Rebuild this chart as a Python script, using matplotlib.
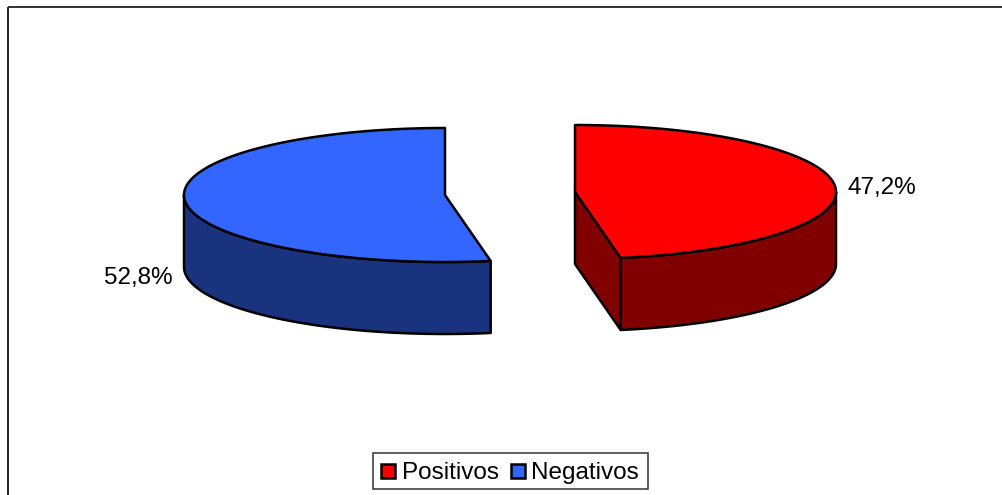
import numpy as np
import matplotlib
matplotlib.use('Agg')
import matplotlib.pyplot as plt
from matplotlib.patches import Polygon, Rectangle

categories = ['Positivos', 'Negativos']
values = [47.2, 52.8]
labels = ['47,2%', '52,8%']
top_colors = ['#ff0000', '#3366ff']
side_colors = ['#800000', '#19337f']

# pie geometry, in pixels
rx = 261
ry = 67
depth = 72
centers = [(575, 192), (445, 195)]
label_pos = [(848, 194), (104, 284)]

plt.rcParams['font.family'] = ['Liberation Sans', 'DejaVu Sans']

fig = plt.figure(figsize=(10.02, 4.95), dpi=100)
ax = fig.add_axes([0, 0, 1, 1])
ax.set_xlim(0, 1002)
ax.set_ylim(495, 0)
ax.axis('off')

# chart frame, right and bottom run off the edge
ax.plot([8, 8], [495, 6.5], color='#111111', lw=1.3, solid_capstyle='butt')
ax.plot([8, 1002], [6.5, 6.5], color='#222222', lw=1.3, solid_capstyle='butt')


def rim(cx, cy, a0, a1):
    # angles run clockwise from twelve o'clock
    t = np.radians(np.linspace(a0, a1, 300))
    return cx + rx * np.sin(t), cy - ry * np.cos(t)


def draw_slice(cx, cy, a0, a1, top, side):
    # side wall under the front part of the rim
    lo = max(a0, 90)
    hi = min(a1, 270)
    x, y = rim(cx, cy, lo, hi)
    wall = np.vstack([np.column_stack([x, y]),
                      np.column_stack([x[::-1], y[::-1] + depth])])
    # cut face, only seen on the slice that starts at twelve o'clock
    if a0 == 0:
        ex, ey = rim(cx, cy, a1, a1)
        cut = [(cx, cy), (ex[0], ey[0]), (ex[0], ey[0] + depth), (cx, cy + depth)]
        ax.add_patch(Polygon(cut, closed=True, fc=side, ec='black', lw=1.8, joinstyle='round'))
    ax.add_patch(Polygon(wall, closed=True, fc=side, ec='black', lw=1.8, joinstyle='round'))
    x, y = rim(cx, cy, a0, a1)
    face = np.vstack([[cx, cy], np.column_stack([x, y])])
    ax.add_patch(Polygon(face, closed=True, fc=top, ec='black', lw=1.8, joinstyle='round'))


start = 0
for i in range(len(values)):
    sweep = values[i] / sum(values) * 360
    draw_slice(centers[i][0], centers[i][1], start, start + sweep, top_colors[i], side_colors[i])
    ax.text(label_pos[i][0], label_pos[i][1], labels[i], fontsize=17.5, color='black',
            ha='left', va='baseline')
    start += sweep

# legend box
ax.add_patch(Rectangle((372.7, 453), 275.3, 36, fc='white', ec='#333333', lw=1.1))
swatch_x = [381, 511]
text_x = [402, 531]
for i in range(len(categories)):
    ax.add_patch(Rectangle((swatch_x[i], 464), 14, 14, fc=top_colors[i], ec='black', lw=1.8))
    ax.text(text_x[i], 479, categories[i], fontsize=17.5, color='black', ha='left', va='baseline')

fig.savefig('out.png', dpi=100)
